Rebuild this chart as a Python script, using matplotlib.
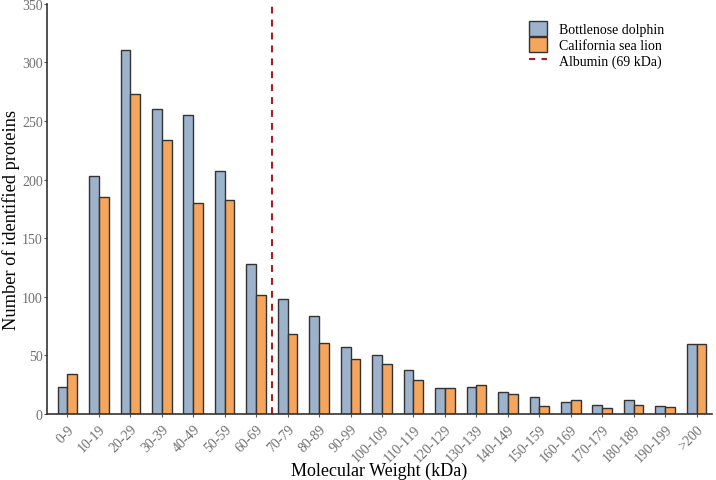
import numpy as np
import matplotlib
matplotlib.use("Agg")
import matplotlib.pyplot as plt
import matplotlib.transforms as mtransforms
from matplotlib.patches import Patch
from matplotlib.lines import Line2D

plt.rcParams["font.family"] = ["Liberation Serif", "DejaVu Serif"]

CATEGORIES = ["0-9", "10-19", "20-29", "30-39", "40-49", "50-59", "60-69",
              "70-79", "80-89", "90-99", "100-109", "110-119", "120-129",
              "130-139", "140-149", "150-159", "160-169", "170-179",
              "180-189", "190-199", ">200"]
DOLPHIN = [23, 203, 311, 260, 255, 207, 128, 98, 84, 57, 50, 38, 22, 23,
           19, 15, 10, 8, 12, 7, 60]
SEA_LION = [34, 185, 273, 234, 180, 183, 102, 68, 61, 47, 43, 29, 22, 25,
            17, 7, 12, 5, 8, 6, 60]
ALBUMIN_POS = 6.5   # between 60-69 and 70-79 bins

BLUE = "#9db3cc"
ORANGE = "#f5a55c"
EDGE = "#333333"
RED = "#a81c22"

fig = plt.figure(figsize=(7.16, 4.81), dpi=100)
ax = fig.add_axes([0.066, 0.137, 0.928, 0.853])

x = np.arange(len(CATEGORIES))
w = 0.31
ax.bar(x - w / 2, DOLPHIN, w, color=BLUE, edgecolor=EDGE, linewidth=1.0)
ax.bar(x + w / 2, SEA_LION, w, color=ORANGE, edgecolor=EDGE, linewidth=1.0)
ax.axvline(ALBUMIN_POS, color=RED, linestyle=(0, (3.3, 2.9)), linewidth=1.5)

ax.set_xlim(-0.64, 20.48)
ax.set_ylim(0, 350)
ax.set_yticks(range(0, 351, 50))
ax.set_xticks(x)
ax.set_xticklabels(CATEGORIES, rotation=45, ha="right", rotation_mode="anchor")
shift = mtransforms.ScaledTranslation(0.04, -0.05, fig.dpi_scale_trans)
for lbl in ax.get_xticklabels():
    lbl.set_transform(lbl.get_transform() + shift)
ax.tick_params(axis="both", colors="#555555", labelcolor="#707070",
               labelsize=10, length=2.5, width=0.8)
ax.tick_params(axis="y", pad=0.8)
for s in ("top", "right"):
    ax.spines[s].set_visible(False)
for s in ("left", "bottom"):
    ax.spines[s].set_color("#333333")
    ax.spines[s].set_linewidth(1.2)

ax.set_xlabel("Molecular Weight (kDa)", fontsize=13)
ax.set_ylabel("Number of identified proteins", fontsize=13.2)
ax.xaxis.set_label_coords(0.5, -0.117)
ax.yaxis.set_label_coords(-0.0405, 0.475)

handles = [Patch(facecolor=BLUE, edgecolor=EDGE, label="Bottlenose dolphin"),
           Patch(facecolor=ORANGE, edgecolor=EDGE, label="California sea lion"),
           Line2D([0], [0], color=RED, linestyle=(0, (3, 3)), linewidth=1.5,
                  label="Albumin (69 kDa)")]
fig.legend(handles=handles, loc="upper left", bbox_to_anchor=(0.731, 0.965),
           frameon=False, fontsize=10, handlelength=1.3, handleheight=1.25,
           labelspacing=0.05, handletextpad=0.85, borderaxespad=0)

fig.savefig("out.png", dpi=100)
